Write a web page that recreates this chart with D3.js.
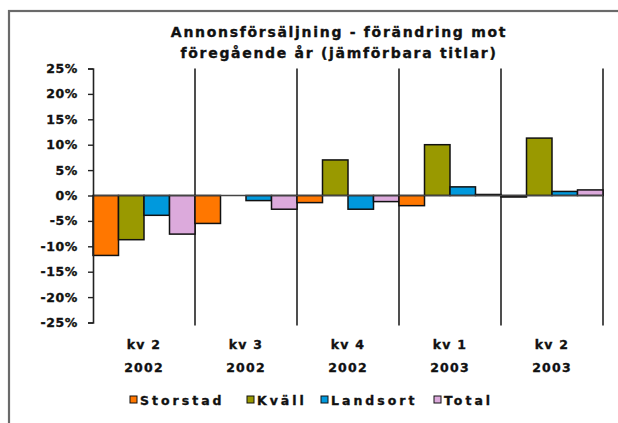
<!DOCTYPE html>
<html>
<head>
<meta charset="utf-8">
<script src="https://cdn.jsdelivr.net/npm/d3@7"></script>
<style>
  html, body { margin: 0; padding: 0; background: #fff; }
  svg { display: block; }
  text { font-family: "DejaVu Sans", Verdana, sans-serif; font-weight: bold; fill: #111; stroke: #111; stroke-width: 0.35px; }
</style>
</head>
<body>
<svg id="chart" width="618" height="423"></svg>
<script>
// Quarterly change in ad sales vs. previous year, percent
const categories = [["kv 2", "2002"], ["kv 3", "2002"], ["kv 4", "2002"], ["kv 1", "2003"], ["kv 2", "2003"]];
const seriesNames = ["Storstad", "Kväll", "Landsort", "Total"];
const seriesColors = ["#ff7700", "#999900", "#0099dd", "#dcaadc"];
const storstad = [-11.8, -5.5, -1.4, -2.0, -0.3];
const kvall    = [-8.7, 0, 7.0, 10.0, 11.3];
const landsort = [-3.9, -1.0, -2.7, 1.7, 0.8];
const total    = [-7.6, -2.7, -1.2, 0.2, 1.1];
const yTicks = [25, 20, 15, 10, 5, 0, -5, -10, -15, -20, -25];
const titleLines = ["Annonsförsäljning - förändring mot", "föregående år (jämförbara titlar)"];

const seriesValues = [storstad, kvall, landsort, total];
const svg = d3.select("#chart");

// outer chart frame (runs past the right and bottom edge)
svg.append("rect")
  .attr("x", 9).attr("y", 11).attr("width", 640).attr("height", 440)
  .attr("fill", "none").attr("stroke", "#6a6a6a").attr("stroke-width", 2.2);

const plot = { left: 93, right: 603, top: 68.5, bottom: 322.5 };

const y = d3.scaleLinear().domain([-25, 25]).range([plot.bottom, plot.top]);
const x0 = d3.scaleBand().domain(d3.range(categories.length))
  .range([plot.left, plot.right]).paddingInner(0).paddingOuter(0);
const x1 = d3.scaleBand().domain(d3.range(seriesNames.length))
  .range([0, x0.bandwidth()]).padding(0);

// title
svg.append("g").selectAll("text").data(titleLines).join("text")
  .attr("x", 339).attr("y", (d, i) => 37 + i * 21)
  .attr("text-anchor", "middle")
  .attr("font-size", 14)
  .attr("letter-spacing", 1.7)
  .text(d => d);

// category separator lines
svg.append("g").selectAll("line").data(d3.range(1, categories.length + 1)).join("line")
  .attr("x1", i => x0(i - 1) + x0.bandwidth()).attr("x2", i => x0(i - 1) + x0.bandwidth())
  .attr("y1", plot.top).attr("y2", plot.bottom + 3)
  .attr("stroke", "#222").attr("stroke-width", 1.6);

// bars
const groups = svg.append("g").selectAll("g").data(categories).join("g")
  .attr("transform", (d, i) => `translate(${x0(i)},0)`);
groups.selectAll("rect")
  .data((d, ci) => seriesValues.map((vals, si) => ({ si, v: vals[ci] })))
  .join("rect")
  .attr("x", d => x1(d.si))
  .attr("width", x1.bandwidth())
  .attr("y", d => y(Math.max(0, d.v)))
  .attr("height", d => Math.abs(y(d.v) - y(0)))
  .attr("fill", d => seriesColors[d.si])
  .attr("stroke", "#111").attr("stroke-width", 1.5);

// zero line
svg.append("line")
  .attr("x1", plot.left).attr("x2", plot.right)
  .attr("y1", y(0)).attr("y2", y(0))
  .attr("stroke", "#444").attr("stroke-width", 1.3);

// y axis
const yAxis = svg.append("g").attr("transform", `translate(${plot.left},0)`)
  .call(d3.axisLeft(y).tickValues(yTicks).tickSize(5).tickPadding(10)
    .tickFormat(d => d + "%"));
yAxis.select(".domain").attr("stroke", "#222").attr("stroke-width", 1.6);
yAxis.selectAll(".tick line").attr("stroke", "#222").attr("stroke-width", 1.4);
yAxis.selectAll(".tick text")
  .attr("font-family", "DejaVu Sans, sans-serif").attr("font-weight", "bold")
  .attr("font-size", 12.5).attr("letter-spacing", 0.6).attr("fill", "#111");

// category labels (two lines)
const xl = svg.append("g").selectAll("text").data(categories).join("text")
  .attr("text-anchor", "middle")
  .attr("font-size", 12.5)
  .attr("letter-spacing", 1.2);
xl.selectAll("tspan").data(d => d).join("tspan")
  .attr("x", function() { const i = categories.indexOf(d3.select(this.parentNode).datum()); return x0(i) + x0.bandwidth() / 2; })
  .attr("y", (d, j) => 349 + j * 23)
  .text(d => d);

// legend
const legendX = [130, 247, 321, 434];
const legend = svg.append("g").selectAll("g").data(seriesNames).join("g")
  .attr("transform", (d, i) => `translate(${legendX[i]},396)`);
legend.append("rect")
  .attr("x", 0).attr("y", 0).attr("width", 7).attr("height", 7)
  .attr("fill", (d, i) => seriesColors[i]).attr("stroke", "#111").attr("stroke-width", 1);
legend.append("text")
  .attr("x", 10).attr("y", 8.5)
  .attr("font-size", 12.5).attr("letter-spacing", 3.0)
  .text(d => d);
</script>
</body>
</html>
